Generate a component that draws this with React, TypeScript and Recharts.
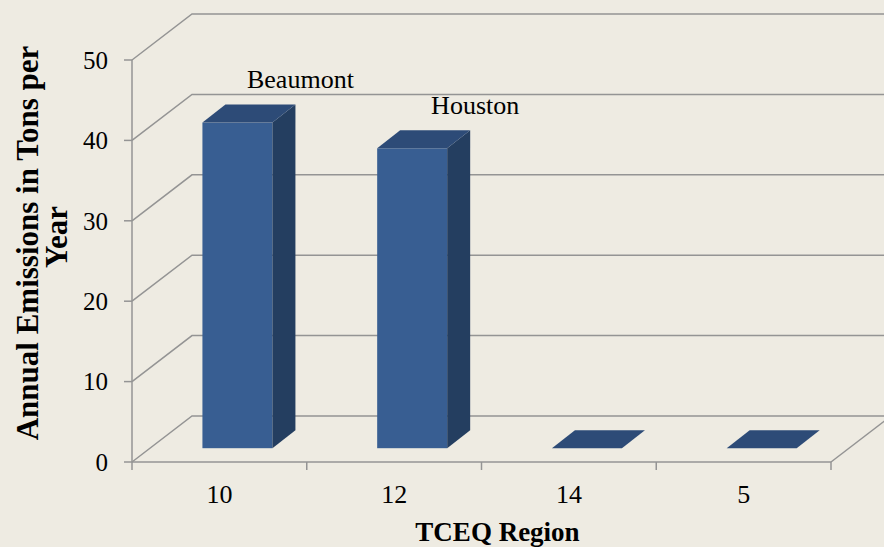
import { Bar, BarChart, CartesianGrid, LabelList, XAxis, YAxis } from "recharts";

const regions = ["10", "12", "14", "5"];
const emissions = [40.5, 37.3, 0, 0];
const cityLabels = ["Beaumont", "Houston", "", ""];
const yTicks = [0, 10, 20, 30, 40, 50];

const data = regions.map((region, i) => ({
  region,
  emissions: emissions[i],
  city: cityLabels[i],
}));

const BG = "#EEEBE2";
const GRID = "#949494";
const FONT = "'Liberation Serif', 'Times New Roman', serif";

// fake 3d: depth of the walls, where the bar row sits, bar thickness
const DEPTH_X = 60;
const DEPTH_Y = 46;
const ROW = 0.3;
const BAR_DX = 23;
const BAR_DY = 18;

function Bar3D(props: any) {
  const { x, y, width, height } = props;
  const fx = x + DEPTH_X * ROW;
  const fy = y - DEPTH_Y * ROW;
  const h = Math.max(height || 0, 0);
  const top = `${fx},${fy} ${fx + BAR_DX},${fy - BAR_DY} ${fx + width + BAR_DX},${fy - BAR_DY} ${fx + width},${fy}`;
  const side = `${fx + width},${fy} ${fx + width + BAR_DX},${fy - BAR_DY} ${fx + width + BAR_DX},${fy + h - BAR_DY} ${fx + width},${fy + h}`;
  return (
    <g>
      {h > 0 && <rect x={fx} y={fy} width={width} height={h} fill="#385E92" />}
      {h > 0 && <polygon points={side} fill="#243E60" />}
      <polygon points={top} fill="#2D4B77" />
    </g>
  );
}

const gridLine = (p: any) => {
  const { x1, y1, x2 } = p;
  return (
    <polyline
      key={p.key ?? `g-${p.index}`}
      points={`${x1},${y1} ${x1 + DEPTH_X},${y1 - DEPTH_Y} ${x2 + DEPTH_X},${y1 - DEPTH_Y}`}
      fill="none"
      stroke={GRID}
      strokeWidth={1.5}
    />
  );
};

const XTick = (p: any) => {
  const { x, y, payload, index, visibleTicksCount } = p;
  const half = payload?.offset ?? 0;
  const last = index === visibleTicksCount - 1;
  return (
    <g>
      <line x1={x - half} y1={y - 8} x2={x - half} y2={y} stroke={GRID} strokeWidth={1.5} />
      {last && (
        <>
          <line x1={x + half} y1={y - 8} x2={x + half} y2={y} stroke={GRID} strokeWidth={1.5} />
          <line
            x1={x + half}
            y1={y - 8}
            x2={x + half + DEPTH_X}
            y2={y - 8 - DEPTH_Y}
            stroke={GRID}
            strokeWidth={1.5}
          />
        </>
      )}
      <text x={x} y={y + 33} textAnchor="middle" fontSize={26} fontFamily={FONT} fill="#000">
        {payload.value}
      </text>
    </g>
  );
};

const YTitle = (p: any) => {
  const vb = p.viewBox || {};
  const cy = vb.y + vb.height / 2 - 18;
  return (
    <g fontFamily={FONT} fontWeight="bold" fontSize={31} fill="#000">
      <text x={38} y={cy} textAnchor="middle" transform={`rotate(-90, 38, ${cy})`}>
        Annual Emissions in Tons per
      </text>
      <text x={67} y={cy - 6} textAnchor="middle" transform={`rotate(-90, 67, ${cy - 6})`}>
        Year
      </text>
    </g>
  );
};

const XTitle = (p: any) => {
  const vb = p.viewBox || {};
  return (
    <text
      x={vb.x + vb.width / 2 + 16}
      y={vb.y + 79}
      textAnchor="middle"
      fontFamily={FONT}
      fontWeight="bold"
      fontSize={27}
      fill="#000"
    >
      TCEQ Region
    </text>
  );
};

const CityLabel = (p: any) => {
  const { x, y, width, value } = p;
  if (!value) return null;
  return (
    <text x={x + width / 2 + 81} y={y - 48} textAnchor="middle" fontFamily={FONT} fontSize={26} fill="#000">
      {value}
    </text>
  );
};

export default function App() {
  return (
    <div style={{ position: "absolute", left: 0, top: 0, width: 884, height: 547, background: BG, overflow: "hidden" }}>
      <BarChart
        width={884}
        height={547}
        data={data}
        margin={{ top: 60, right: 53, bottom: 0, left: 0 }}
        barCategoryGap="30%"
      >
        <CartesianGrid vertical={false} horizontal={gridLine} />
        <XAxis
          dataKey="region"
          height={85}
          axisLine={{ stroke: GRID, strokeWidth: 1.5 }}
          tickLine={{ stroke: "none" }}
          tickSize={8}
          tickMargin={0}
          tick={<XTick />}
          interval={0}
          label={{ content: <XTitle /> }}
        />
        <YAxis
          width={132}
          domain={[0, 50]}
          ticks={yTicks}
          interval={0}
          axisLine={{ stroke: GRID, strokeWidth: 1.5 }}
          tickLine={{ stroke: GRID, strokeWidth: 1.5 }}
          tickSize={8}
          tickMargin={16}
          tick={{ fontSize: 25, fontFamily: FONT, fill: "#000" }}
          label={{ content: <YTitle /> }}
        />
        <Bar dataKey="emissions" shape={<Bar3D />} isAnimationActive={false}>
          <LabelList dataKey="city" content={<CityLabel />} />
        </Bar>
      </BarChart>
    </div>
  );
}
